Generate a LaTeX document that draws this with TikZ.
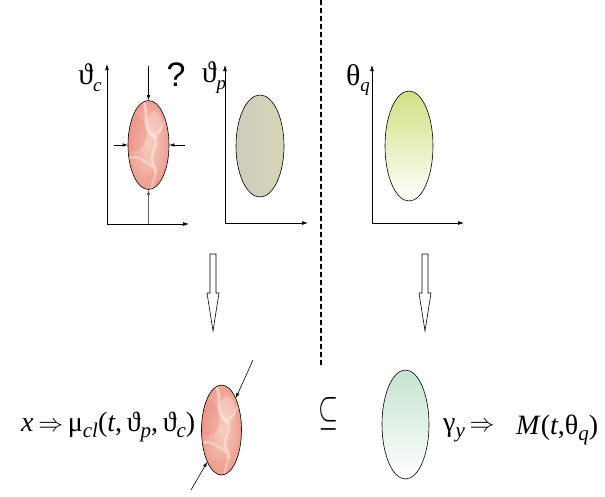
\documentclass[tikz,border=0pt]{standalone}
\usepackage{graphicx}
\usepackage{fontspec}
\setmainfont{Liberation Serif}
\newfontfamily\qfont{Liberation Sans}
\usetikzlibrary{arrows.meta,shapes.geometric}
\definecolor{marbleA}{RGB}{238,158,146}
\definecolor{marbleB}{RGB}{246,205,192}
\definecolor{marbleC}{RGB}{252,232,218}
\definecolor{stone}{RGB}{214,212,192}
\definecolor{lime}{RGB}{208,224,130}
\definecolor{mint}{RGB}{196,228,208}
\newcommand{\lo}[1]{\raisebox{-0.5ex}{\fontsize{19}{19}\selectfont\textit{#1}}}
\newcommand{\los}[1]{\raisebox{-0.45ex}{\fontsize{21}{21}\selectfont\textit{#1}}}
\newcommand{\imp}{\,$\Rightarrow$\,}
\begin{document}
\begin{tikzpicture}[x=1pt,y=-1pt,
  axis/.style={line width=0.7pt,-{Latex[length=6pt,width=4pt]}},
  blob/.style={ellipse,draw,line width=0.6pt,inner sep=0pt},
  marble/.style={blob,shading=radial,inner color=marbleB,outer color=marbleA,
    path picture={
      \begin{scope}[shift={(path picture bounding box.center)}]
        \fill[marbleA!85!red,opacity=0.35] (-14,-12) ellipse (12 and 18);
        \draw[marbleC,line width=3pt,opacity=0.55]
          (-6,-46) .. controls (2,-30) and (-8,-20) .. (4,-10)
          .. controls (14,-2) and (-2,8) .. (6,22)
          .. controls (10,30) and (2,36) .. (4,46);
        \draw[marbleC,line width=2.4pt,opacity=0.5]
          (-22,14) .. controls (-10,8) and (-4,18) .. (6,22);
        \draw[marbleC,line width=2pt,opacity=0.45]
          (22,-30) .. controls (12,-22) and (16,-14) .. (4,-10);
        \fill[white,opacity=0.25] (6,-20) ellipse (8 and 14);
        \fill[marbleA,opacity=0.35] (2,36) ellipse (12 and 8);
      \end{scope}}},
  stoneblob/.style={blob,fill=stone,
    path picture={
      \shade[left color=stone!85!gray,right color=stone!92!yellow,opacity=0.6]
        (path picture bounding box.south west) rectangle (path picture bounding box.north east);}},
  limeblob/.style={blob,shading=axis,shading angle=-35,top color=lime,bottom color=white},
  mintblob/.style={blob,shading=axis,shading angle=-35,top color=mint,bottom color=white},
  small/.style={-{Latex[length=5pt,width=3.5pt]},line width=0.6pt},
  label/.style={inner sep=0pt,font=\fontsize{30}{30}\selectfont},
  formula/.style={inner sep=0pt,font=\fontsize{28}{28}\selectfont},
  hollow/.style={draw,line width=0.6pt,fill=white}]
\useasboundingbox (0,0) rectangle (605,496);

% separator between the two halves
\draw[line width=1.6pt,dash pattern=on 5pt off 3pt] (321,0) -- (321,366);

% ---- left plot: theta_c
\coordinate (o1) at (107,224);
\draw[axis] (o1) -- ++(0,-160);
\draw[axis] (o1) -- ++(82,0);
\node[marble,minimum width=41pt,minimum height=89pt] (rc) at (148.5,145) {};
\node[label] (lc) at (90,78) {ϑ\lo{c}};
\node[inner sep=0pt,font=\qfont\fontsize{34}{34}\selectfont] (qm) at (176,75) {?};
\coordinate (ta) at (148.5,66);
\coordinate (la) at (114,145);
\coordinate (ra) at (185,145);
\coordinate (ba) at (148.5,224);
\draw[small] (ta) -- (rc.north);
\draw[small] (la) -- (rc.west);
\draw[small] (ra) -- (rc.east);
\draw[small,draw=gray!80!black] (ba) -- (rc.south);

% ---- middle plot: theta_p
\coordinate (o2) at (225,223);
\draw[axis] (o2) -- ++(0,-158);
\draw[axis] (o2) -- ++(83,0);
\node[stoneblob,minimum width=48pt,minimum height=102pt] (sp) at (260,146) {};
\node[label] (lp) at (214,78) {ϑ\lo{p}};

% ---- right plot: theta_q
\coordinate (o3) at (372,223);
\draw[axis] (o3) -- ++(0,-158);
\draw[axis] (o3) -- ++(92,0);
\node[limeblob,minimum width=48pt,minimum height=110pt] (gq) at (409,146) {};
\node[label] (lq) at (358,80) {θ\lo{q}};

% ---- hollow arrows
\draw[hollow] (210,254) -- (216,254) -- (216,293) -- (219,293) -- (213,331)
  -- (207,293) -- (210,293) -- cycle;
\draw[hollow] (422,254) -- (428,254) -- (428,293) -- (431,293) -- (425,331)
  -- (419,293) -- (422,293) -- cycle;

% ---- bottom row
\node[formula,anchor=west] (fx) at (21,427)
  {\textit{x}\imp μ\los{cl}(\textit{t},\,ϑ\los{p},\,ϑ\los{c})};
\node[marble,minimum width=40pt,minimum height=90pt] (rb) at (221.5,430) {};
\coordinate (tr) at (253,360);
\coordinate (bl) at (191,490);
\draw[small] (tr) -- (rb.north east);
\draw[small] (bl) -- (rb.south west);
\node[inner sep=0pt] (sub) at (328,414) {\resizebox{20pt}{27pt}{$\subseteq$}};
\node[mintblob,minimum width=47pt,minimum height=109pt] (gb) at (405.5,424.5) {};
\node[formula,anchor=west] (gy) at (443,430) {γ\los{y}\imp};
\node[formula,anchor=west] (mq) at (516,430) {\textit{M}(\textit{t},θ\los{q})};
\end{tikzpicture}
\end{document}
